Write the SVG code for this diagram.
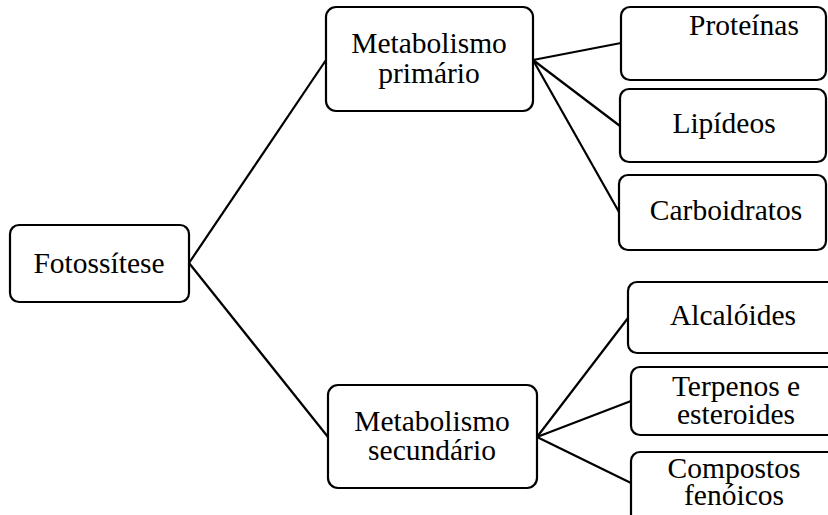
<svg xmlns="http://www.w3.org/2000/svg" width="828" height="515" viewBox="0 0 828 515">
<style>
.box{fill:#fff;stroke:#000;stroke-width:2.2}
.t{font-family:"Liberation Serif","Times New Roman",serif;font-size:29.5px;fill:#000;text-anchor:middle}
.c{stroke:#000;stroke-width:2.2;fill:none}
</style>
<rect width="828" height="515" fill="#fff"/>
<g id="connectors">
<line class="c" x1="189" y1="263" x2="326" y2="60"/>
<line class="c" x1="189" y1="263" x2="328" y2="437"/>
<line class="c" x1="533" y1="60" x2="621" y2="43"/>
<line class="c" x1="533" y1="60" x2="620" y2="126"/>
<line class="c" x1="533" y1="60" x2="619" y2="212"/>
<line class="c" x1="537" y1="437" x2="628" y2="318"/>
<line class="c" x1="537" y1="437" x2="631" y2="401"/>
<line class="c" x1="537" y1="437" x2="631" y2="483"/>
</g>
<g id="fotossintese">
<rect class="box" x="10" y="225" width="179" height="77" rx="9"/>
<text class="t" x="99" y="273">Fotossítese</text>
</g>
<g id="primario">
<rect class="box" x="326" y="7" width="207" height="104" rx="10"/>
<text class="t" x="429" y="53">Metabolismo</text>
<text class="t" x="429" y="83">primário</text>
</g>
<g id="secundario">
<rect class="box" x="328" y="385" width="209" height="103" rx="10"/>
<text class="t" x="432" y="431">Metabolismo</text>
<text class="t" x="432" y="460">secundário</text>
</g>
<g id="proteinas">
<rect class="box" x="621" y="7" width="205" height="73" rx="9"/>
<text class="t" x="744" y="35">Proteínas</text>
</g>
<g id="lipideos">
<rect class="box" x="620" y="89" width="206" height="73" rx="9"/>
<text class="t" x="724" y="133">Lipídeos</text>
</g>
<g id="carboidratos">
<rect class="box" x="619" y="175" width="207" height="75" rx="9"/>
<text class="t" x="726" y="220">Carboidratos</text>
</g>
<g id="alcaloides">
<rect class="box" x="628" y="282" width="215" height="71" rx="9"/>
<text class="t" x="733" y="325">Alcalóides</text>
</g>
<g id="terpenos">
<rect class="box" x="631" y="367" width="212" height="68" rx="9"/>
<text class="t" x="736" y="396">Terpenos e</text>
<text class="t" x="736" y="424">esteroides</text>
</g>
<g id="compostos">
<rect class="box" x="631" y="452" width="212" height="80" rx="9"/>
<text class="t" x="734" y="478">Compostos</text>
<text class="t" x="734" y="505">fenóicos</text>
</g>
</svg>
